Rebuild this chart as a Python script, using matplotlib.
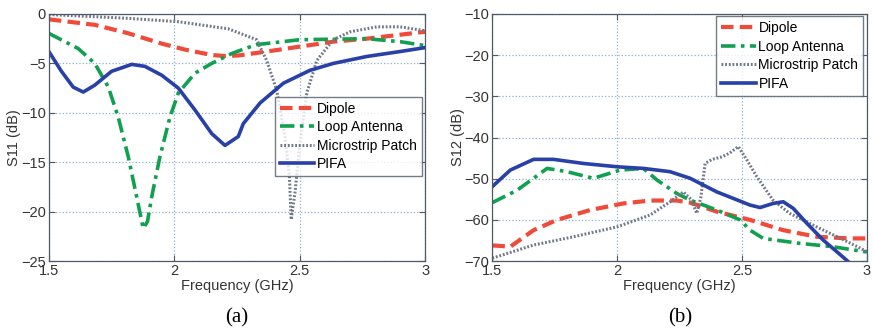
import matplotlib.pyplot as plt

# S11 data (left panel)
s11_dipole_f = [1.5, 1.683, 1.816, 1.95, 2.042, 2.149, 2.2, 2.255, 2.368, 2.501, 2.634, 2.767, 2.9, 3.0]
s11_dipole = [-0.54, -1.1, -1.95, -3.0, -3.6, -4.15, -4.25, -4.2, -3.8, -3.3, -2.8, -2.5, -2.1, -1.8]

s11_loop_f = [1.5, 1.617, 1.683, 1.737, 1.776, 1.816, 1.85, 1.876, 1.893, 1.91, 1.943, 1.983, 2.016, 2.082,
              2.149, 2.229, 2.282, 2.328, 2.501, 2.767, 2.9, 3.0]
s11_loop = [-1.96, -3.5, -5.0, -7.4, -10.4, -14.4, -18.5, -21.7, -21.0, -18.5, -14.4, -10.4, -8.0, -6.0,
            -5.0, -4.0, -3.5, -3.1, -2.6, -2.5, -2.8, -3.2]

s11_patch_f = [1.5, 1.816, 2.016, 2.215, 2.328, 2.368, 2.408, 2.441, 2.459, 2.466, 2.481, 2.501, 2.528,
               2.568, 2.634, 2.701, 2.807, 2.9, 3.0]
s11_patch = [-0.05, -0.44, -0.78, -1.5, -2.6, -4.7, -7.7, -12.4, -16.5, -20.8, -18.1, -13.1, -8.0,
             -4.7, -2.6, -1.8, -1.3, -1.3, -1.7]

s11_pifa_f = [1.5, 1.55, 1.597, 1.637, 1.683, 1.75, 1.83, 1.883, 1.95, 2.016, 2.082, 2.149, 2.202, 2.255,
              2.275, 2.342, 2.435, 2.541, 2.634, 2.767, 2.9, 3.0]
s11_pifa = [-3.8, -5.8, -7.4, -7.9, -7.2, -5.8, -5.1, -5.3, -6.2, -7.5, -9.7, -12.1, -13.3, -12.4,
            -11.1, -9.0, -7.0, -5.7, -5.0, -4.3, -3.8, -3.4]

# S12 data (right panel)
s12_dipole_f = [1.5, 1.572, 1.665, 1.759, 1.892, 2.025, 2.132, 2.239, 2.292, 2.399, 2.532, 2.665, 2.799,
                2.932, 3.0]
s12_dipole = [-66.2, -66.5, -62.5, -60.0, -57.6, -56.0, -55.3, -55.3, -55.8, -58.0, -60.0, -62.5, -64.1,
              -64.5, -64.5]

s12_loop_f = [1.5, 1.599, 1.719, 1.799, 1.905, 2.012, 2.105, 2.159, 2.239, 2.292, 2.399, 2.492, 2.532,
              2.585, 2.732, 2.862, 3.0]
s12_loop = [-55.8, -52.8, -47.5, -48.3, -49.9, -47.9, -47.5, -50.3, -53.6, -55.2, -57.6, -60.0, -62.5,
            -64.5, -65.7, -66.5, -67.8]

s12_patch_f = [1.5, 1.665, 1.825, 1.999, 2.132, 2.212, 2.265, 2.295, 2.319, 2.335, 2.352, 2.38, 2.419,
               2.45, 2.485, 2.52, 2.559, 2.624, 2.69, 2.799, 2.932, 3.0]
s12_patch = [-69.3, -66.1, -64.1, -61.7, -58.8, -55.6, -53.2, -55.0, -58.4, -54.5, -46.3, -45.3, -44.7,
             -43.8, -42.2, -45.5, -49.5, -55.2, -58.4, -61.7, -65.6, -67.7]

s12_pifa_f = [1.5, 1.572, 1.665, 1.745, 1.865, 1.999, 2.105, 2.212, 2.292, 2.399, 2.532, 2.572, 2.625,
              2.665, 2.705, 2.759, 2.825, 2.879, 2.919, 2.95, 3.0]
s12_pifa = [-51.9, -47.9, -45.3, -45.3, -46.3, -47.1, -47.5, -48.3, -49.9, -53.2, -56.4, -57.0, -56.0,
            -55.6, -57.2, -60.8, -64.9, -67.7, -69.8, -71.5, -74.0]

legend_labels = ['Dipole', 'Loop Antenna', 'Microstrip Patch', 'PIFA']
panel_labels = ['(a)', '(b)']

plt.rcParams['font.family'] = ['Liberation Sans', 'DejaVu Sans']
plt.rcParams['font.size'] = 10.5

styles = [
    dict(color='#f04a3a', linestyle=(0, (3, 1.5)), linewidth=3.0),
    dict(color='#10a050', linestyle=(0, (4, 1.5, 1, 1.5)), linewidth=2.6),
    dict(color='#707888', linestyle=(0, (0.6, 0.6)), linewidth=2.2),
    dict(color='#2840a8', linestyle='-', linewidth=2.6),
]

fig = plt.figure(figsize=(8.73, 3.33), dpi=100)
ax1 = fig.add_axes([0.056, 0.216, 0.431, 0.742])
ax2 = fig.add_axes([0.564, 0.216, 0.429, 0.742])

panels = [
    (ax1, [(s11_dipole_f, s11_dipole), (s11_loop_f, s11_loop), (s11_patch_f, s11_patch), (s11_pifa_f, s11_pifa)]),
    (ax2, [(s12_dipole_f, s12_dipole), (s12_loop_f, s12_loop), (s12_patch_f, s12_patch), (s12_pifa_f, s12_pifa)]),
]

for ax, series in panels:
    for (f, v), st, lab in zip(series, styles, legend_labels):
        ax.plot(f, v, label=lab, solid_joinstyle='round', **st)
    ax.set_xlim(1.5, 3)
    ax.set_xticks([1.5, 2, 2.5, 3])
    ax.set_xticklabels(['1.5', '2', '2.5', '3'])
    ax.grid(True, linestyle=':', color='#8fb0d0', linewidth=0.9)
    ax.tick_params(direction='in', top=True, right=True, colors='#505a66', labelcolor='#333333', pad=2, length=4)
    for sp in ax.spines.values():
        sp.set_color('#505a66')
        sp.set_linewidth(0.9)
    ax.set_xlabel('Frequency (GHz)', color='#333333', labelpad=1)

legend_kw = dict(frameon=True, fancybox=False, edgecolor='#505a66', handlelength=2.5, handletextpad=0.2,
                 borderpad=0.35, labelspacing=0.32, borderaxespad=0, fontsize=10)

ax1.set_ylim(-25, 0)
ax1.set_yticks([-25, -20, -15, -10, -5, 0])
ax1.set_ylabel('S11 (dB)', color='#333333', labelpad=0)
ax1.legend(loc='upper left', bbox_to_anchor=(0.6, 0.665), **legend_kw)

ax2.set_ylim(-70, -10)
ax2.set_yticks([-70, -60, -50, -40, -30, -20, -10])
ax2.set_ylabel('S12 (dB)', color='#333333', labelpad=0)
ax2.legend(loc='upper right', bbox_to_anchor=(0.99, 0.99), **legend_kw)

fig.text(0.271, 0.045, panel_labels[0], ha='center', va='center', fontsize=15, family='Liberation Serif')
fig.text(0.779, 0.045, panel_labels[1], ha='center', va='center', fontsize=15, family='Liberation Serif')

fig.savefig('out.png', dpi=100)
